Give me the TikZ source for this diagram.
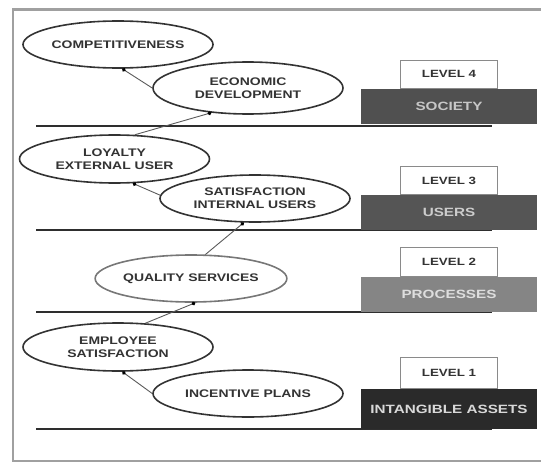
\documentclass[tikz,border=0pt]{standalone}
\usepackage{fontspec}
\newfontfamily\lblfont[FakeStretch=1.27]{Liberation Sans Bold}
\usetikzlibrary{arrows.meta,shapes.geometric,positioning}

\definecolor{framegray}{HTML}{A0A0A0}
\definecolor{ringgray}{HTML}{333333}
\definecolor{palering}{HTML}{777777}
\definecolor{inkgray}{HTML}{333333}
\definecolor{linkgray}{HTML}{5A5A5A}
\definecolor{rulegray}{HTML}{2E2E2E}
\definecolor{tabgray}{HTML}{8A8A8A}
\definecolor{societyfill}{HTML}{505050}
\definecolor{usersfill}{HTML}{555555}
\definecolor{processfill}{HTML}{858585}
\definecolor{assetfill}{HTML}{2A2A2A}

\tikzset{
  frame/.style={draw=framegray, line width=2.4pt},
  levelline/.style={draw=rulegray, line width=2.8pt},
  goal/.style={ellipse, draw=ringgray, line width=1.6pt, fill=white,
    minimum width=190pt, minimum height=47pt, inner sep=0pt, align=center,
    text=inkgray, font=\lblfont\fontsize{11}{13}\selectfont},
  palegoal/.style={goal, draw=palering},
  link/.style={draw=linkgray, line width=0.9pt, -{Circle[length=3.8pt, black]}},
  sector/.style={rectangle, minimum width=176pt, minimum height=35pt, inner sep=0pt,
    font=\lblfont\fontsize{12}{14}\selectfont},
  levelbox/.style={rectangle, draw=tabgray, line width=0.9pt, fill=white,
    minimum width=97pt, minimum height=28pt, inner sep=0pt, text=inkgray,
    font=\lblfont\fontsize{10.5}{13}\selectfont},
}

\begin{document}
\begin{tikzpicture}[x=1pt, y=-1pt]
\useasboundingbox (0,0) rectangle (541,463);
\clip (0,0) rectangle (541,463);

% frame
\draw[frame] (545,9.5) -- (13,9.5) -- (13,461) -- (545,461);

% level lines
\draw[levelline] (36,126) -- (492,126);
\draw[levelline] (36,230) -- (492,230);
\draw[levelline] (36,312) -- (492,312);
\draw[levelline] (36,429) -- (492,429);

% levels
\node[sector, fill=societyfill, text=white!78!black] (society) at (449,106.5) {SOCIETY};
\node[levelbox, above=0pt of society] (lvl4) {LEVEL 4};

\node[sector, fill=usersfill, text=white!80!black] (users) at (449,212.8) {USERS};
\node[levelbox, above=0pt of users] (lvl3) {LEVEL 3};

\node[sector, fill=processfill, text=white!87!black] (processes) at (449,294.5) {PROCESSES};
\node[levelbox, minimum height=29pt, above=0pt of processes] (lvl2) {LEVEL 2};

\node[sector, minimum height=40pt, fill=assetfill, text=white!85!black] (assets) at (449,409.3) {INTANGIBLE ASSETS};
\node[levelbox, minimum height=31pt, above=0pt of assets] (lvl1) {LEVEL 1};

% goals
\node[goal] (compet) at (118,44.5) {COMPETITIVENESS};
\node[goal, minimum height=52pt] (econ) at (248,88) {ECONOMIC\\DEVELOPMENT};
\node[goal, minimum height=48pt] (loyal) at (114.5,159) {LOYALTY\\EXTERNAL USER};
\node[goal] (satint) at (255,198.5) {SATISFACTION\\INTERNAL USERS};
\node[palegoal] (quality) at (191,278.5) {QUALITY SERVICES};
\node[goal, minimum height=48pt] (employ) at (118,347) {EMPLOYEE\\SATISFACTION};
\node[goal] (incent) at (248,393.5) {INCENTIVE PLANS};

% links
\draw[link] (econ.west) -- (compet.-80);
\draw[link] (loyal.50) -- (econ.214);
\draw[link] (satint.178) -- (loyal.-53);
\draw[link] (quality.59) -- (satint.245);
\draw[link] (employ.41) -- (quality.-80);
\draw[link] (incent.west) -- (employ.-80);

\end{tikzpicture}
\end{document}
